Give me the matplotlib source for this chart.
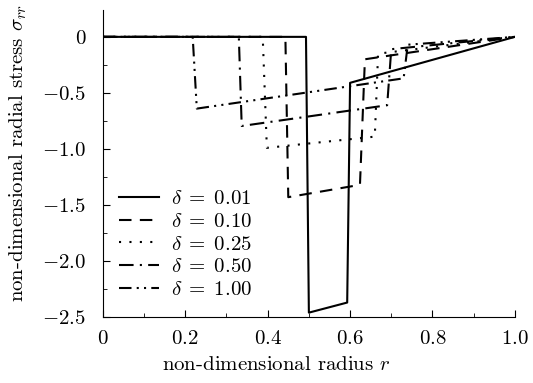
import matplotlib
matplotlib.use("Agg")
import matplotlib.pyplot as plt
from matplotlib.ticker import MultipleLocator

plt.rcParams['mathtext.fontset'] = 'cm'
plt.rcParams['font.family'] = 'serif'
plt.rcParams['font.serif'] = ['cmr10', 'DejaVu Serif']
plt.rcParams['axes.unicode_minus'] = False

# piecewise curves: (radius, radial stress)
r_001 = [0, 0.493, 0.500, 0.593, 0.600, 1.0]
s_001 = [0, 0, -2.46, -2.37, -0.41, 0]

r_010 = [0, 0.443, 0.450, 0.624, 0.636, 1.0]
s_010 = [0, 0, -1.43, -1.32, -0.20, 0]

r_025 = [0, 0.388, 0.398, 0.660, 0.668, 1.0]
s_025 = [0, 0, -0.99, -0.89, -0.15, 0]

r_050 = [0, 0.330, 0.337, 0.690, 0.700, 1.0]
s_050 = [0, 0, -0.795, -0.61, -0.11, 0]

r_100 = [0, 0.218, 0.228, 0.730, 0.740, 1.0]
s_100 = [0, 0, -0.64, -0.37, -0.07, 0]

labels = [r'$\delta\;=\;0.01$', r'$\delta\;=\;0.10$', r'$\delta\;=\;0.25$',
          r'$\delta\;=\;0.50$', r'$\delta\;=\;1.00$']

fs = 15

fig = plt.figure(figsize=(5.33, 3.83), dpi=100)
ax = fig.add_axes([0.193, 0.172, 0.773, 0.802])

ax.plot(r_001, s_001, color='black', lw=1.5, ls='-', label=labels[0])
ax.plot(r_010, s_010, color='black', lw=1.5, ls=(0, (6, 4)), label=labels[1])
ax.plot(r_025, s_025, color='black', lw=1.5, ls=(0, (1, 4)), label=labels[2])
ax.plot(r_050, s_050, color='black', lw=1.5, ls=(0, (7, 3, 1, 3)), label=labels[3])
ax.plot(r_100, s_100, color='black', lw=1.5, ls=(0, (6, 2.5, 1, 2.5, 1, 2.5)), label=labels[4])

ax.set_xlim(0, 1.0)
ax.set_ylim(-2.5, 0.24)

ax.spines['top'].set_visible(False)
ax.spines['right'].set_visible(False)

xt = [0, 0.2, 0.4, 0.6, 0.8, 1.0]
yt = [0, -0.5, -1.0, -1.5, -2.0, -2.5]
ax.set_xticks(xt)
ax.set_xticklabels(['$0$', '$0.2$', '$0.4$', '$0.6$', '$0.8$', '$1.0$'])
ax.set_yticks(yt)
ax.set_yticklabels(['$0$', '$-0.5$', '$-1.0$', '$-1.5$', '$-2.0$', '$-2.5$'])
ax.xaxis.set_minor_locator(MultipleLocator(0.1))
ax.yaxis.set_minor_locator(MultipleLocator(0.25))
ax.tick_params(which='major', direction='in', length=5, labelsize=fs)
ax.tick_params(axis='x', which='major', pad=9)
ax.tick_params(axis='y', which='major', pad=12)
ax.tick_params(which='minor', direction='in', length=3)

ax.set_xlabel('non-dimensional radius $r$', fontsize=fs)
ax.set_ylabel(r'non-dimensional radial stress $\sigma_{rr}$', fontsize=fs)
ax.xaxis.set_label_coords(0.42, -0.125)
ax.yaxis.set_label_coords(-0.18, 0.535)

ax.legend(loc='upper left', bbox_to_anchor=(0.04, 0.415), frameon=False,
          fontsize=fs, handlelength=1.9, handletextpad=0.6,
          labelspacing=0.2, borderpad=0, borderaxespad=0)

fig.savefig('out.png', dpi=100)
